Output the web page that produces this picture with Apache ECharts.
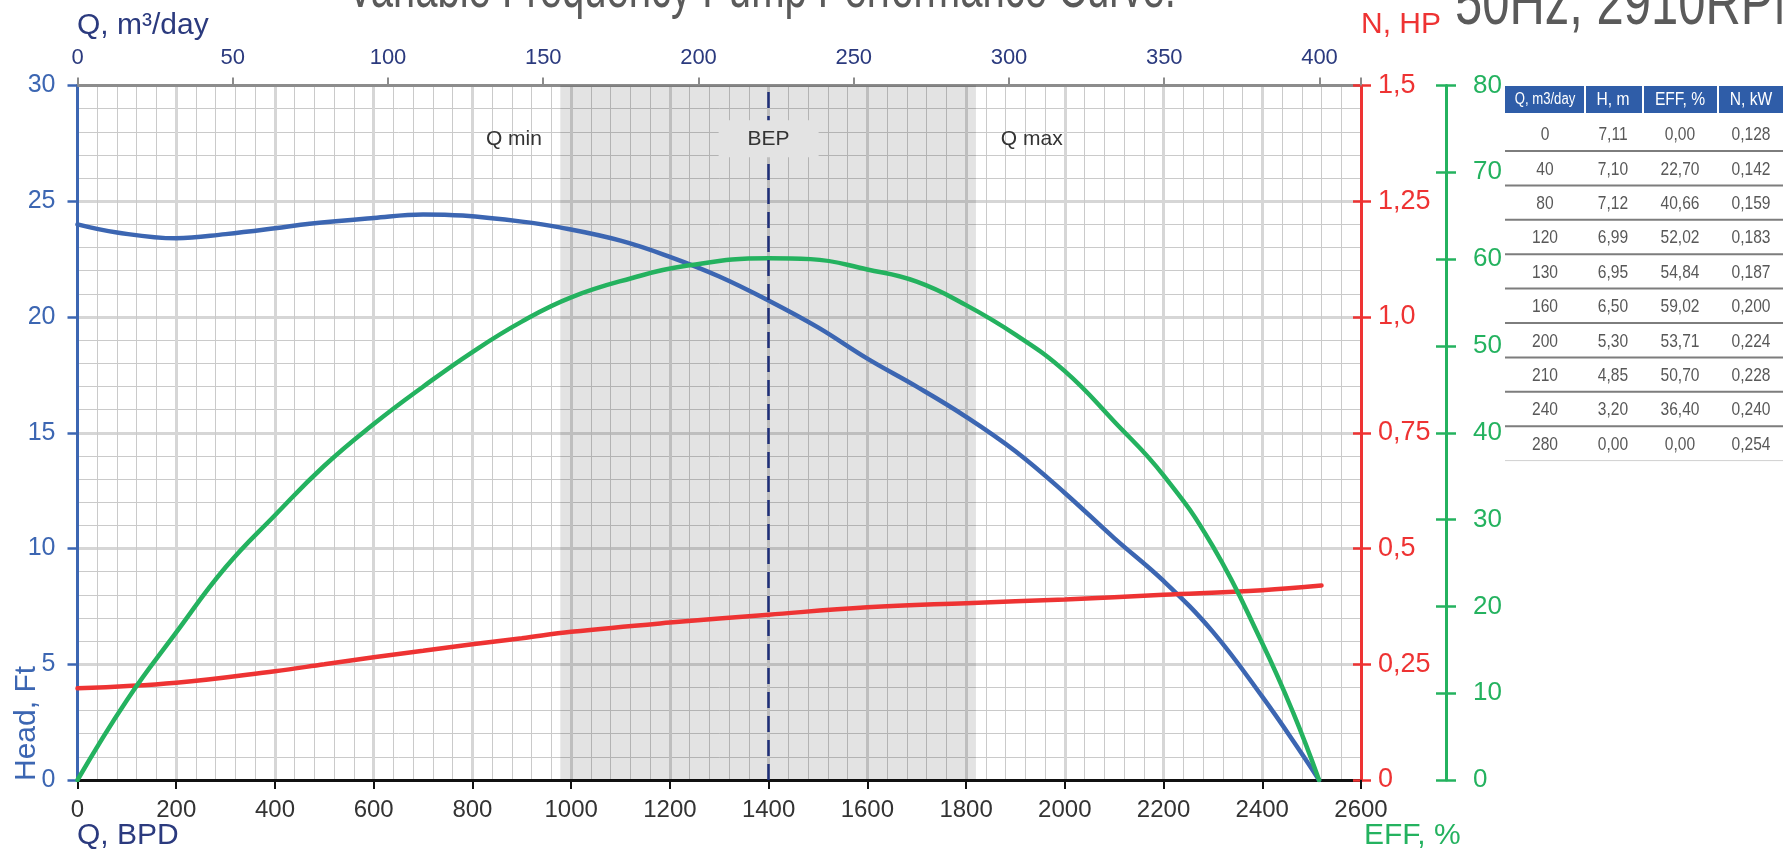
<!DOCTYPE html>
<html><head><meta charset="utf-8">
<script src="https://cdn.jsdelivr.net/npm/echarts@6.0.0/dist/echarts.min.js"></script>
<style>html,body{margin:0;padding:0;background:#fff}#c{width:1783px;height:852px}</style>
</head><body><div id="c"></div>
<script>
// ---- data (flow in BPD) ----
const headQ = [0, 80, 200, 300, 400, 470, 600, 700, 780, 900, 977, 1100, 1200, 1300, 1400, 1500, 1600, 1700, 1800, 1900, 2000, 2100, 2200, 2300, 2400, 2475, 2515];
const headH = [24.0, 23.65, 23.4, 23.58, 23.83, 24.03, 24.28, 24.43, 24.38, 24.12, 23.87, 23.3, 22.6, 21.75, 20.71, 19.55, 18.2, 16.99, 15.69, 14.2, 12.4, 10.45, 8.6, 6.4, 3.6, 1.3, 0];
const effQ = [0, 100, 200, 300, 400, 500, 600, 700, 800, 900, 1000, 1122, 1230, 1400, 1485, 1600, 1700, 1800, 1900, 2000, 2100, 2200, 2300, 2400, 2463, 2515];
const effE = [0, 9.2, 17.0, 24.5, 30.5, 36.2, 41.0, 45.3, 49.3, 52.8, 55.6, 57.8, 59.2, 60.1, 60.0, 58.8, 57.4, 54.7, 51.3, 47.1, 41.3, 35.1, 26.9, 15.75, 7.7, 0];
const powQ = [0, 200, 400, 500, 600, 700, 800, 900, 1000, 1200, 1400, 1600, 1800, 2000, 2200, 2400, 2520];
const powN = [0.198, 0.21, 0.235, 0.25, 0.265, 0.279, 0.293, 0.306, 0.32, 0.34, 0.357, 0.373, 0.382, 0.390, 0.400, 0.410, 0.420];
const qMinBPD = 978, qMaxBPD = 1820, bepBPD = 1400;
const nTickLabels = ['0', '0,25', '0,5', '0,75', '1,0', '1,25', '1,5'];
const bpdPerM3 = 6.2898;
// table
const tabHead = ['Q, m3/day', 'H, m', 'EFF, %', 'N, kW'];
const tabQ = ['0', '40', '80', '120', '130', '160', '200', '210', '240', '280'];
const tabH = ['7,11', '7,10', '7,12', '6,99', '6,95', '6,50', '5,30', '4,85', '3,20', '0,00'];
const tabE = ['0,00', '22,70', '40,66', '52,02', '54,84', '59,02', '53,71', '50,70', '36,40', '0,00'];
const tabN = ['0,128', '0,142', '0,159', '0,183', '0,187', '0,200', '0,224', '0,228', '0,240', '0,254'];
const titleText = 'Variable Frequency Pump Performance Curve.';
const subTitleText = '50Hz, 2910RPM';

const FF = 'Liberation Sans, Arial, Helvetica, sans-serif';
const NAVY = '#2b3a7e', BLUE = '#3c66b2', RED = '#ee3333', GREEN = '#24b25f';
const pairs = (xs, ys) => xs.map((x, i) => [x, ys[i]]);

// ---- graphics (titles, axis names, table) ----
const graphics = [];
function txt(x, y, s, size, color, opt) {
  opt = opt || {};
  graphics.push({
    type: 'text', x: x, y: y, scaleX: opt.sx || 1, scaleY: 1, rotation: opt.rot || 0, z: 20,
    style: { text: s, fontSize: size, fontFamily: FF, fill: color,
      align: opt.align || 'left', textAlign: opt.align || 'left',
      verticalAlign: 'middle', textVerticalAlign: 'middle' }
  });
}
txt(347, -9, titleText, 58, '#5a5a5a', { sx: 0.69 });
txt(1455, 6, subTitleText, 64, '#5a5a5a', { sx: 0.765 });
txt(77, 26, 'Q, m\u00b3/day', 30, NAVY);
txt(1361, 25, 'N, HP', 30, RED);
txt(77, 836, 'Q, BPD', 30, NAVY);
txt(1364, 836, 'EFF, %', 30, GREEN);
txt(27, 781, 'Head, Ft', 30, BLUE, { rot: Math.PI / 2 });

// table
const tX0 = 1505, tX1 = 1783, colSep = [1585, 1643, 1718], colC = [1545, 1613, 1680, 1751];
graphics.push({ type: 'rect', shape: { x: tX0, y: 86, width: tX1 - tX0, height: 27 }, style: { fill: '#2f5da8' }, z: 20 });
colSep.forEach(x => graphics.push({ type: 'line', shape: { x1: x, y1: 86, x2: x, y2: 113 }, style: { stroke: '#ffffff', lineWidth: 2 }, z: 21 }));
tabHead.forEach((h, i) => txt(colC[i], 100, h, i === 0 ? 16 : 19, '#ffffff', { sx: 0.82, align: 'center' }));
const cols = [tabQ, tabH, tabE, tabN];
for (let r = 0; r < tabQ.length; r++) {
  const cy = 135 + r * 34.4;
  cols.forEach((c, i) => txt(colC[i], cy, c[r], 19, '#585858', { sx: 0.82, align: 'center' }));
  const last = r === tabQ.length - 1;
  graphics.push({ type: 'line', shape: { x1: tX0, y1: cy + 16, x2: tX1, y2: cy + 16 },
    style: { stroke: last ? '#d0d0d0' : '#7d7d7d', lineWidth: last ? 1 : 2 }, z: 20 });
}

const lbl = (s) => ({ show: true, formatter: s, fontSize: 21, fontFamily: FF, color: '#333' });
const G = { left: 77.5, right: 422, top: 85.5, bottom: 72, containLabel: false, outerBoundsMode: 'none' };

const option = {
  backgroundColor: '#ffffff',
  animation: false,
  grid: [Object.assign({}, G), Object.assign({}, G), Object.assign({}, G)],
  xAxis: [
    { type: 'value', gridIndex: 0, position: 'bottom', min: 0, max: 2600, interval: 200,
      axisLine: { show: true, onZero: false, lineStyle: { color: '#111', width: 3 } },
      axisTick: { show: true, length: 9, lineStyle: { color: '#111', width: 2 } },
      axisLabel: { fontSize: 24, color: '#333', fontFamily: FF, margin: 18, formatter: v => String(v) },
      splitLine: { show: true, lineStyle: { color: '#d6d6d6', width: 3 } },
      minorTick: { show: false, splitNumber: 5 },
      minorSplitLine: { show: true, lineStyle: { color: '#cacaca', width: 1 } } },
    { type: 'value', gridIndex: 0, position: 'top', min: 0, max: 2600 / bpdPerM3, interval: 50,
      axisLine: { show: true, onZero: false, lineStyle: { color: '#8c8c8c', width: 3 } },
      axisTick: { show: true, length: 8, lineStyle: { color: '#8c8c8c', width: 2 } },
      axisLabel: { fontSize: 22, color: NAVY, fontFamily: FF, margin: 17,
        formatter: v => (Math.abs(v % 50) < 1e-6 ? String(v) : '') },
      splitLine: { show: false } },
    { type: 'value', gridIndex: 1, show: false, min: 0, max: 1, axisLine: { onZero: false } },
    { type: 'value', gridIndex: 2, show: false, min: 0, max: 1, axisLine: { onZero: false } }
  ],
  yAxis: [
    { type: 'value', gridIndex: 0, position: 'left', min: 0, max: 30, interval: 5,
      axisLine: { show: true, onZero: false, lineStyle: { color: BLUE, width: 3 } },
      axisTick: { show: true, length: 10, lineStyle: { color: BLUE, width: 2.5 } },
      axisLabel: { fontSize: 25, color: BLUE, fontFamily: FF, margin: 22 },
      splitLine: { show: true, lineStyle: { color: '#d6d6d6', width: 3 } },
      minorTick: { show: false, splitNumber: 5 },
      minorSplitLine: { show: true, lineStyle: { color: '#cacaca', width: 1 } } },
    { type: 'value', gridIndex: 0, position: 'right', offset: 0, min: 0, max: 1.5, interval: 0.25,
      axisLine: { show: true, onZero: false, lineStyle: { color: RED, width: 3 } },
      axisTick: { show: true, length: 10, lineStyle: { color: RED, width: 2.5 } },
      axisLabel: { fontSize: 27, color: RED, fontFamily: FF, margin: 17,
        formatter: v => nTickLabels[Math.round(v / 0.25)] },
      splitLine: { show: false } },
    { type: 'value', gridIndex: 0, position: 'right', offset: 85, min: 0, max: 80, interval: 10,
      axisLine: { show: true, onZero: false, lineStyle: { color: GREEN, width: 3 } },
      axisTick: { show: true, length: 10, lineStyle: { color: GREEN, width: 2.5 } },
      axisLabel: { fontSize: 26, color: GREEN, fontFamily: FF, margin: 27 },
      splitLine: { show: false } },
    { type: 'value', gridIndex: 1, position: 'right', offset: 0, min: 0, max: 1.5, interval: 0.25,
      axisLine: { show: false, onZero: false }, axisLabel: { show: false }, splitLine: { show: false },
      axisTick: { show: true, inside: true, length: 8, lineStyle: { color: RED, width: 2.5 } } },
    { type: 'value', gridIndex: 2, position: 'right', offset: 85, min: 0, max: 80, interval: 10,
      axisLine: { show: false, onZero: false }, axisLabel: { show: false }, splitLine: { show: false },
      axisTick: { show: true, inside: true, length: 10, lineStyle: { color: GREEN, width: 2.5 } } }
  ],
  series: [
    { name: 'zones', type: 'line', xAxisIndex: 0, yAxisIndex: 0, data: [], z: 1, silent: true,
      markArea: { silent: true, itemStyle: { color: 'rgba(0,0,0,0.11)' },
        data: [[{ xAxis: qMinBPD }, { xAxis: qMaxBPD }]] },
      markLine: { silent: true, symbol: ['none', 'none'], label: { show: false },
        lineStyle: { color: '#1f2f78', width: 2.5, type: [16, 8] },
        data: [{ xAxis: bepBPD }] } },
    { name: 'Head', type: 'line', xAxisIndex: 0, yAxisIndex: 0, data: pairs(headQ, headH),
      smooth: 0.4, showSymbol: false, symbol: 'none', z: 3,
      lineStyle: { color: BLUE, width: 4.5, cap: 'round' } },
    { name: 'Power', type: 'line', xAxisIndex: 0, yAxisIndex: 1, data: pairs(powQ, powN),
      smooth: 0.4, showSymbol: false, symbol: 'none', z: 3,
      lineStyle: { color: RED, width: 4.5, cap: 'round' } },
    { name: 'EFF', type: 'line', xAxisIndex: 0, yAxisIndex: 2, data: pairs(effQ, effE),
      smooth: 0.45, showSymbol: false, symbol: 'none', z: 3,
      lineStyle: { color: GREEN, width: 4.5, cap: 'round' } },
    { name: 'labels', type: 'line', xAxisIndex: 0, yAxisIndex: 0, data: [], z: 4, silent: true,
      markPoint: { silent: true, symbol: 'rect', symbolKeepAspect: false,
        data: [
          { coord: [884, 27.7], symbolSize: [90, 30], itemStyle: { color: 'rgba(0,0,0,0)' }, label: lbl('Q min') },
          { coord: [bepBPD, 27.7], symbolSize: [100, 37], itemStyle: { color: '#e3e3e3' }, label: lbl('BEP') },
          { coord: [1933, 27.7], symbolSize: [90, 30], itemStyle: { color: 'rgba(0,0,0,0)' }, label: lbl('Q max') }
        ] } }
  ],
  graphic: graphics
};
const chart = echarts.init(document.getElementById('c'));
chart.setOption(option);
</script>
</body></html>
